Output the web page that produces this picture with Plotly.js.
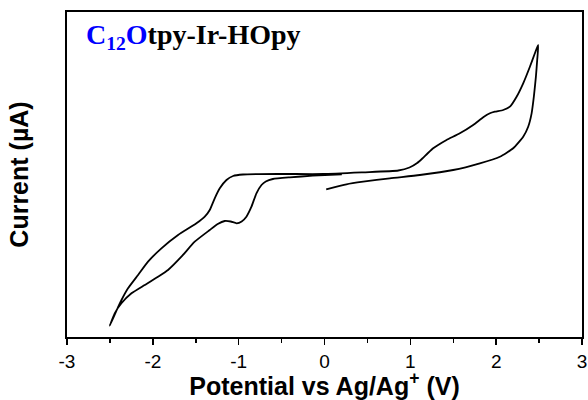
<!DOCTYPE html>
<html>
<head>
<meta charset="utf-8">
<script src="https://cdn.plot.ly/plotly-3.0.1.min.js"></script>
<style>html,body{margin:0;padding:0;background:#fff;}#chart{width:588px;height:400px;}</style>
</head>
<body>
<div id="chart"></div>
<script>
// Cyclic voltammogram, scan order: 0 V -> +2.5 V -> -2.5 V -> ~0.2 V (current in arbitrary units)
const potential = [
  0.02, 0.256, 0.45, 0.761, 1.111, 1.499, 1.81, 2.043, 2.198, 2.315, 2.373, 2.413, 2.439, 2.463, 2.478, 2.49,
  2.451, 2.393, 2.315, 2.238, 2.16, 2.082, 1.985, 1.927, 1.849, 1.732, 1.577, 1.422, 1.324, 1.266, 1.2, 1.14,
  1.08, 0.99, 0.86, 0.45, -0.016, -0.521, -0.95, -1.065, -1.142, -1.22, -1.279, -1.337, -1.395, -1.492,
  -1.706, -1.90, -2.056, -2.172, -2.289, -2.365, -2.42, -2.461, -2.502,
  -2.444, -2.366, -2.249, -2.094, -1.939, -1.823, -1.667, -1.512, -1.337, -1.244, -1.163, -1.093, -1.023,
  -0.965, -0.91, -0.851, -0.793, -0.734, -0.684, -0.602, -0.404, -0.136, 0.003, 0.202
];
const current = [
  147.7, 152.7, 155.3, 158.7, 162, 167, 173.7, 180.3, 188.7, 200.3, 210.3, 223.7, 240.3, 260.3, 277, 292,
  283.7, 270.3, 253.7, 240.3, 230.3, 227, 225.3, 223.7, 219.7, 212, 203.7, 197, 192, 188.7, 183.5, 178.5,
  174, 169.5, 166.5, 164.7, 163, 163, 162.5, 161, 157, 148.7, 138.7, 127, 120.3, 113.7,
  102, 88.7, 75.3, 62, 48.7, 37, 27, 19, 11.3,
  23.7, 33.7, 43.7, 52, 60.3, 67, 80.3, 95.3, 107, 113, 116, 115.5, 113.7,
  115.5, 120.3, 130.3, 143.7, 152, 155.5, 158, 159.7, 161.3, 162, 162.7
];
const xTickVals = [-3, -2, -1, 0, 1, 2, 3];
const xTickText = ['-3', '-2', '-1', '0', '1', '2', '3'];

const trace = {
  x: potential, y: current, type: 'scatter', mode: 'lines',
  line: {color: '#000000', width: 1.8, shape: 'spline', smoothing: 0.5},
  hoverinfo: 'x+y', showlegend: false
};

const layout = {
  width: 588, height: 400,
  margin: {l: 67, r: 6, t: 12, b: 63},
  paper_bgcolor: '#ffffff', plot_bgcolor: '#ffffff',
  showlegend: false,
  xaxis: {
    range: [-3, 3], tickmode: 'array', tickvals: xTickVals, ticktext: xTickText,
    ticks: 'outside', ticklen: 6, tickwidth: 1.5, tickcolor: '#000',
    minor: {dtick: 0.5, ticks: 'outside', ticklen: 4, tickwidth: 1.5, tickcolor: '#000', showgrid: false},
    showline: true, linecolor: '#000', linewidth: 1.8, mirror: true,
    showgrid: false, zeroline: false,
    tickfont: {family: 'Liberation Sans, Arial, sans-serif', size: 19, color: '#000'},
    title: {text: '<b>Potential vs Ag/Ag<sup>+</sup> (V)</b>', standoff: 6,
            font: {family: 'Liberation Sans, Arial, sans-serif', size: 25, color: '#000'}}
  },
  yaxis: {
    range: [0, 325], showticklabels: false, ticks: '',
    showline: true, linecolor: '#000', linewidth: 1.8, mirror: true,
    showgrid: false, zeroline: false,
    title: {text: '<b>Current (µA)</b>', standoff: 29,
            font: {family: 'Liberation Sans, Arial, sans-serif', size: 25, color: '#000'}}
  },
  annotations: [{
    xref: 'paper', yref: 'paper', x: 0.033, y: 0.924, xanchor: 'left', yanchor: 'middle',
    showarrow: false,
    text: '<b><span style="color:#0000ff">C<sub>12</sub>O</span>tpy-Ir-HOpy</b>',
    font: {family: 'Liberation Serif, Times New Roman, serif', size: 28, color: '#000'}
  }]
};

Plotly.newPlot('chart', [trace], layout, {displayModeBar: false, staticPlot: true});
</script>
</body>
</html>
